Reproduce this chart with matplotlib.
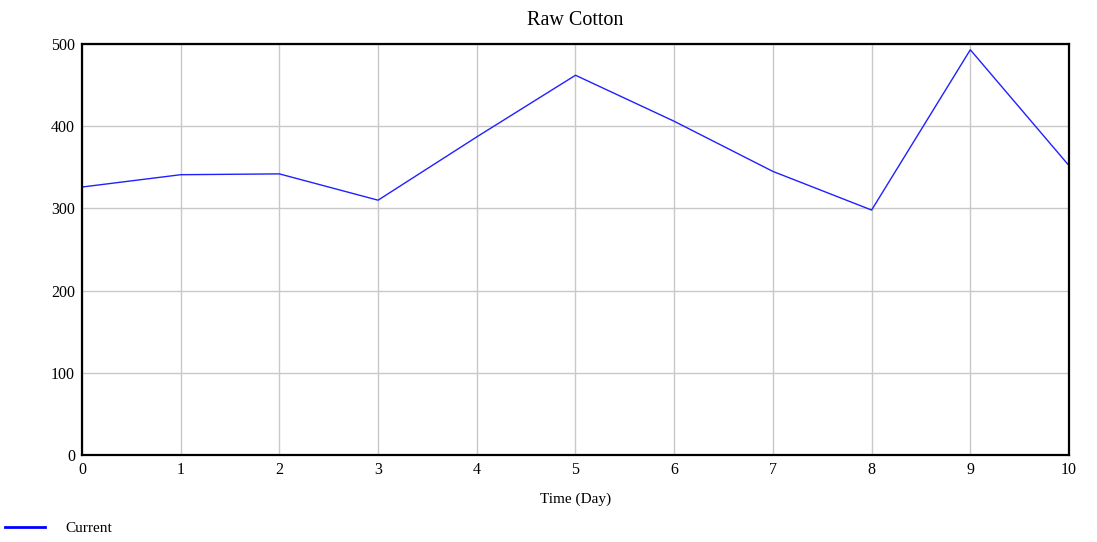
import matplotlib
matplotlib.use("Agg")
import matplotlib.pyplot as plt
from matplotlib.lines import Line2D

# Data
days = [0, 1, 2, 3, 4, 5, 6, 7, 8, 9, 10]
raw_cotton = [326, 341, 342, 310, 387, 462, 406, 345, 298, 493, 352]
x_ticks = list(range(0, 11))
y_ticks = [0, 100, 200, 300, 400, 500]

plt.rcParams["font.family"] = ["Liberation Serif", "DejaVu Serif"]

fig = plt.figure(figsize=(10.97, 5.42), dpi=100)
ax = fig.add_axes([0.0747, 0.1605, 0.8998, 0.7583])

ax.plot(days, raw_cotton, color="#2020ff", linewidth=1.0)

ax.set_xlim(0, 10)
ax.set_ylim(0, 500)
ax.set_xticks(x_ticks)
ax.set_yticks(y_ticks)
ax.grid(True, color="#c8c8c8", linewidth=1.0)
ax.tick_params(length=0, labelsize=11.5, pad=5)
for s in ax.spines.values():
    s.set_linewidth(1.6)
    s.set_color("black")

ax.set_title("Raw Cotton", fontsize=14.5, pad=13.5)
ax.set_xlabel("Time (Day)", fontsize=11, labelpad=10.5)

# legend drawn below the axes, at the left edge
fig.add_artist(Line2D([5 / 1097, 45 / 1097], [1 - 527 / 542, 1 - 527 / 542],
                      color="blue", linewidth=2))
fig.text(65 / 1097, 1 - 528 / 542, "Current", fontsize=11, va="center", ha="left")

fig.savefig("out.png", dpi=100)
